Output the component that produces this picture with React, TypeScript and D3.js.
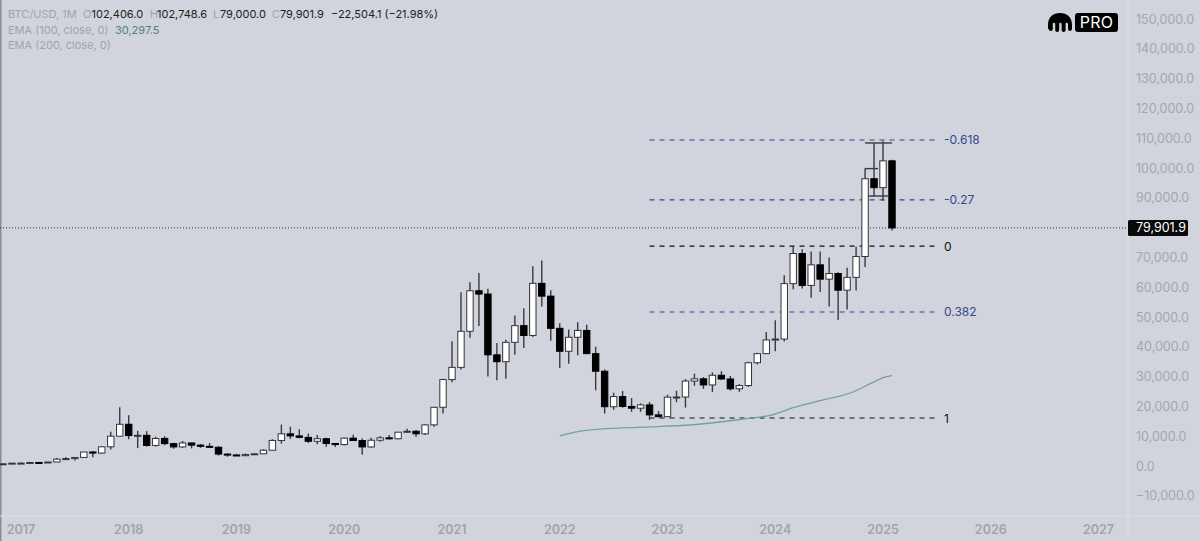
import * as d3 from "d3";

// monthly candles, Nov 2016 -> Feb 2025
const opens = [700, 745, 960, 965, 1190, 1080, 1350, 2300, 2480, 2870, 4700, 4340, 6450, 10000, 14000, 10200, 10300, 6900, 9250, 7500, 6400, 7730, 7000, 6600, 6300, 4000, 3700, 3450, 3830, 4100, 5300, 8570, 10800, 10100, 9600, 8300, 9150, 7550, 7200, 9350, 8550, 6400, 8650, 9450, 9150, 11350, 11650, 10800, 13800, 19700, 29000, 33100, 45200, 58800, 57700, 37300, 35000, 41500, 47100, 43800, 61300, 57000, 46200, 38500, 43200, 45500, 37700, 31800, 19900, 23300, 20000, 19400, 20500, 17150, 16550, 23100, 23150, 28500, 29250, 27200, 30450, 29200, 25900, 27000, 34650, 37700, 42300, 42600, 61200, 71300, 60600, 67500, 62700, 64600, 59000, 63300, 70300, 96400, 93400, 102406];
const highs = [750, 980, 1150, 1200, 1300, 1350, 2700, 3000, 2900, 4700, 4980, 6450, 11500, 19700, 17000, 11800, 11700, 9800, 10000, 7800, 8400, 7800, 7400, 7700, 6600, 4300, 4100, 4200, 4150, 5600, 9000, 13900, 13200, 12300, 10900, 10400, 9500, 7750, 9600, 10500, 9200, 9500, 10100, 10400, 11400, 12500, 12050, 14000, 19800, 29300, 41900, 58300, 61700, 64800, 59500, 41300, 42400, 50500, 52900, 67000, 69000, 59000, 47900, 45800, 48200, 47400, 40000, 32400, 24600, 25200, 22800, 21000, 21500, 18400, 23900, 25250, 29200, 31000, 29800, 31400, 31800, 30200, 27500, 35000, 38000, 45000, 48950, 64000, 73800, 72700, 72000, 72000, 70000, 65000, 66500, 73600, 99800, 108300, 109000, 102748.6];
const lows = [680, 745, 760, 915, 890, 1060, 1350, 2100, 1850, 2700, 2950, 4100, 5500, 10000, 9000, 6000, 6500, 6500, 7000, 5800, 6100, 5900, 6100, 6200, 3500, 3100, 3350, 3350, 3700, 4100, 5300, 7500, 9100, 9300, 7700, 7300, 6500, 6400, 6850, 8400, 3800, 6150, 8100, 8900, 8950, 11100, 9850, 10400, 13200, 17600, 28100, 32400, 43000, 47000, 30000, 28800, 29300, 37300, 39600, 43300, 53500, 42000, 32900, 34300, 37200, 37600, 25400, 17600, 18900, 19600, 18200, 18200, 15500, 16300, 16500, 21400, 19600, 26900, 25900, 24800, 28900, 25300, 24900, 26500, 34100, 37600, 38500, 41800, 59300, 59600, 56500, 58400, 53500, 49000, 52500, 58900, 66800, 90500, 89000, 79000];
const closes = [745, 960, 965, 1190, 1080, 1350, 2300, 2480, 2870, 4700, 4340, 6450, 10000, 14000, 10200, 10300, 6900, 9250, 7500, 6400, 7730, 7000, 6600, 6300, 4000, 3700, 3450, 3830, 4100, 5300, 8570, 10800, 10100, 9600, 8300, 9150, 7550, 7200, 9350, 8550, 6400, 8650, 9450, 9150, 11350, 11650, 10800, 13800, 19700, 29000, 33100, 45200, 58800, 57700, 37300, 35000, 41500, 47100, 43800, 61300, 57000, 46200, 38500, 43200, 45500, 37700, 31800, 19900, 23300, 20000, 19400, 20500, 17150, 16550, 23100, 23150, 28500, 29250, 27200, 30450, 29200, 25900, 27000, 34650, 37700, 42300, 42600, 61200, 71300, 60600, 67500, 62700, 64600, 59000, 63300, 70300, 96400, 93400, 102400, 79901.9];

// EMA 100, month index from Nov 2016 -> value
const emaIdx = [62, 63.7, 66.5, 72, 76.5, 82.07, 85.75, 87.97, 90.98, 94.65, 96.88, 98, 99];
const emaVals = [10070, 11400, 12400, 13100, 13760, 15600, 17280, 19560, 21910, 24830, 28090, 29630, 30297];

// 80,000 sits under the last price tag, so it isn't listed
const priceTicks = d3.range(-10000, 150001, 10000).filter((t) => t !== 80000);
const yearLabels = [2017, 2018, 2019, 2020, 2021, 2022, 2023, 2024, 2025, 2026, 2027];
const yearIdx = yearLabels.map((_, i) => 2 + i * 12);

// fib levels
const fibNames = ["-0.618", "-0.27", "0", "0.382", "1"];
const fibPrices = [109400, 89300, 73800, 51700, 16100];
const fibColors = ["#33478f", "#33478f", "#111", "#33478f", "#111"];
const fibStart = 72; // month index where fib lines begin

// little horizontal lines drawn on the top candles
const shelfPrices = [108400, 99800, 90600];
const shelfFrom = [96, 96, 96.35];
const shelfTo = [99, 97.45, 98.6];

// legend pieces: [text, left edge, dark?]
const legendParts: [string, number, boolean][] = [
  ["BTC/USD, 1M", 8, false],
  ["O", 83, false],
  ["102,406.0", 91.5, true],
  ["H", 150, false],
  ["102,748.6", 157, true],
  ["L", 213, false],
  ["79,000.0", 220, true],
  ["C", 272, false],
  ["79,901.9", 280, true],
  ["\u221222,504.1 (\u221221.98%)", 331, true],
];

const W = 1200;
const H = 541;

const x = d3.scaleLinear().domain([0, 99]).range([3, 892]);
const y = d3.scaleLinear().domain([0, 150000]).range([466, 19]);
const fmt = d3.format(",.1f");

const emaLine = d3
  .line<number>()
  .x((d) => x(d))
  .y((_, i) => y(emaVals[i]))
  .curve(d3.curveMonotoneX);

const font = "Inter, 'Liberation Sans', sans-serif";

const App = () => {
  const axisX = 1128;
  const axisY = 516;
  const bodyW = 6.4;

  return (
    <svg
      width={W}
      height={H}
      viewBox={`0 0 ${W} ${H}`}
      style={{ position: "absolute", left: 0, top: 0, background: "#d1d4dc" }}
      fontFamily={font}
    >
      <rect x={0} y={0} width={1.5} height={H} fill="#8b8e96" />
      <line x1={axisX} x2={axisX} y1={0} y2={H} stroke="#dcdee5" />
      <line x1={0} x2={W} y1={axisY} y2={axisY} stroke="#dcdee5" />

      {/* price axis */}
      {priceTicks.map((t) => (
        <text key={t} x={1136} y={y(t) + 4.5} fontSize={12.5} fill="#a3a6b0">
          {t < 0 ? "\u2212" + fmt(-t) : fmt(t)}
        </text>
      ))}

      {/* time axis */}
      {yearLabels.map((l, i) => (
        <text
          key={l}
          x={x(yearIdx[i])}
          y={533.5}
          fontSize={12.5}
          fontWeight={600}
          textAnchor="middle"
          fill="#a0a3ad"
        >
          {l}
        </text>
      ))}

      {/* last price line */}
      <line
        x1={0}
        x2={axisX}
        y1={y(79901.9)}
        y2={y(79901.9)}
        stroke="#333"
        strokeWidth={1}
        strokeDasharray="1 2"
      />

      {/* fib levels */}
      {fibNames.map((n, i) => (
        <g key={n}>
          <line
            x1={x(fibStart)}
            x2={935}
            y1={y(fibPrices[i])}
            y2={y(fibPrices[i])}
            stroke={fibColors[i]}
            strokeWidth={1.1}
            strokeDasharray="5 5"
          />
          <text x={944} y={y(fibPrices[i]) + 4.5} fontSize={12} fill={fibColors[i]}>
            {n}
          </text>
        </g>
      ))}

      {/* ema */}
      <path d={emaLine(emaIdx) ?? ""} fill="none" stroke="#76a09b" strokeWidth={1.3} />

      {/* candles */}
      {opens.map((o, i) => {
        const c = closes[i];
        const up = c >= o;
        const top = y(Math.max(o, c));
        const bot = y(Math.min(o, c));
        return (
          <g key={i}>
            <line
              x1={x(i)}
              x2={x(i)}
              y1={y(highs[i])}
              y2={y(lows[i])}
              stroke="#3a3a3e"
              strokeWidth={1.4}
            />
            <rect
              x={x(i) - bodyW / 2}
              y={top}
              width={bodyW}
              height={Math.max(bot - top, 1)}
              fill={up ? "#fff" : "#000"}
              stroke={up ? "#33343a" : "#000"}
              strokeWidth={1}
            />
          </g>
        );
      })}

      {/* shelves */}
      {shelfPrices.map((p, i) => (
        <line
          key={p}
          x1={x(shelfFrom[i])}
          x2={x(shelfTo[i])}
          y1={y(p)}
          y2={y(p)}
          stroke="#3a3a3e"
          strokeWidth={1.4}
        />
      ))}

      {/* last price tag */}
      <rect x={axisX} y={y(79901.9) - 8} width={60} height={16} rx={1.5} fill="#0a0a0a" />
      <text x={1136} y={y(79901.9) + 4.5} fontSize={12.5} fill="#fff">
        {fmt(79901.9)}
      </text>

      {/* legend */}
      {legendParts.map(([t, lx, dark]) => (
        <text key={t} x={lx} y={18} fontSize={11} fill={dark ? "#222" : "#a0a3ad"}>
          {t}
        </text>
      ))}
      <text x={8} y={34} fontSize={11} fill="#a0a3ad">
        EMA (100, close, 0)
      </text>
      <text x={115} y={34} fontSize={11} fill="#4f8179">
        30,297.5
      </text>
      <text x={8} y={49} fontSize={11} fill="#a0a3ad">
        EMA (200, close, 0)
      </text>

      {/* logo */}
      <path
        d="M1048 29 V25 C1048 17 1053 13 1060 13 C1067 13 1072 17 1072 25 V29 a2 2 0 0 1 -4 0 V24 a1.2 1.2 0 0 0 -2.4 0 V30 a2 2 0 0 1 -4 0 V24 a1.2 1.2 0 0 0 -2.4 0 V30 a2 2 0 0 1 -4 0 V24 a1.2 1.2 0 0 0 -2.4 0 V29 a2 2 0 0 1 -4 0 Z"
        fill="#000"
      />
      <rect x={1075} y={13} width={43} height={19} rx={3} fill="#000" />
      <text x={1096.5} y={28} fontSize={16} fill="#fff" textAnchor="middle" letterSpacing={0.3}>
        PRO
      </text>
    </svg>
  );
};

export default App;
